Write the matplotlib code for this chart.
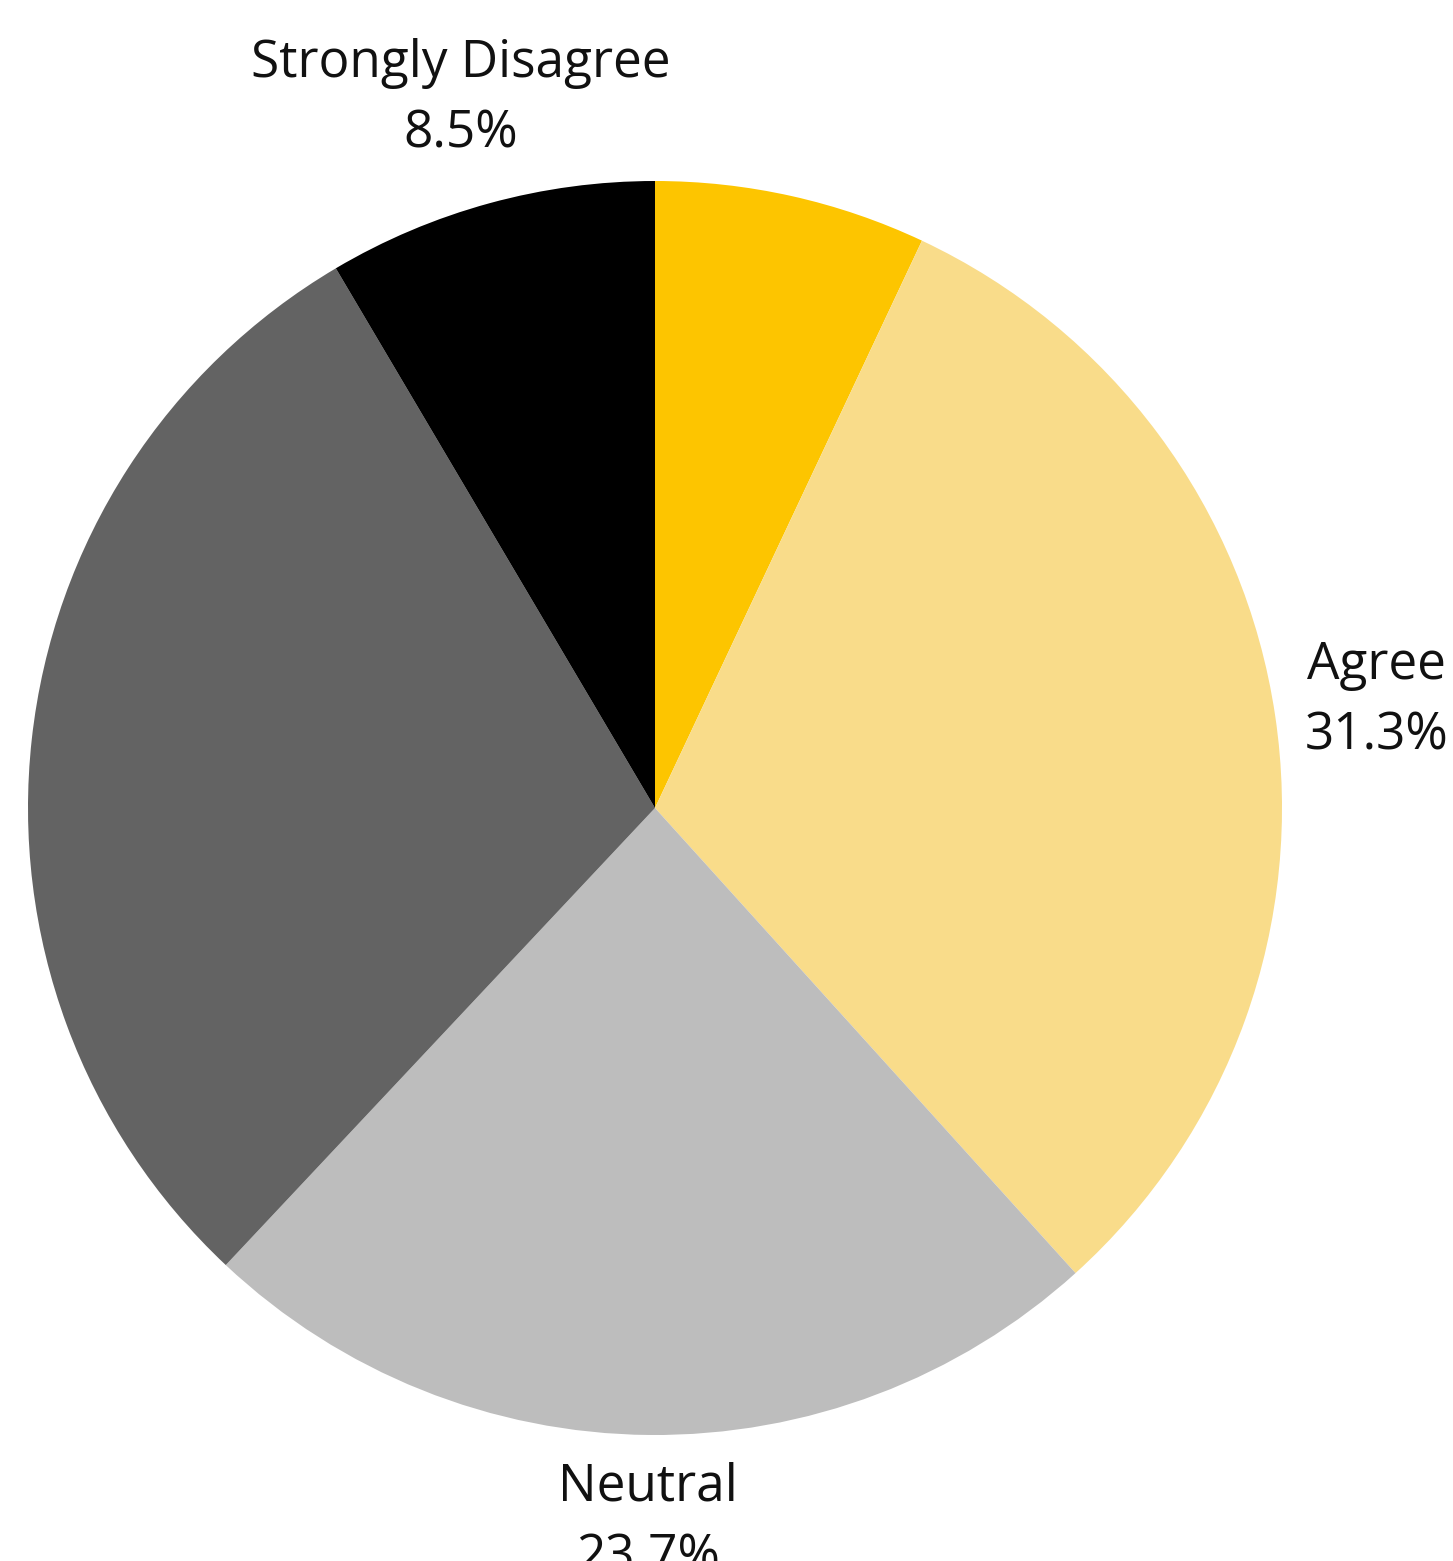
import matplotlib
matplotlib.use("Agg")
import matplotlib.pyplot as plt
import numpy as np

categories = ["Strongly Agree", "Agree", "Neutral", "Disagree", "Strongly Disagree"]
values = [7.0, 31.3, 23.7, 29.5, 8.5]
colors = ["#FDC500", "#F9DC8A", "#BDBDBD", "#636363", "#000000"]
label_dist = [1.6, 1.163, 1.14, 1.28, 1.172]

W, H = 1453, 1561
cx, cy, R = 655, 808, 627

fig = plt.figure(figsize=(W / 100, H / 100), dpi=100)
ax = fig.add_axes([0, 0, 1, 1])
wedges, _ = ax.pie(values, colors=colors, startangle=90, counterclock=False,
                   radius=1.0, center=(0, 0), wedgeprops=dict(linewidth=0))
ax.set_xlim(-cx / R, (W - cx) / R)
ax.set_ylim(-(H - cy) / R, cy / R)
ax.set_aspect("auto")
ax.axis("off")

for w, cat, v, d in zip(wedges, categories, values, label_dist):
    th = np.deg2rad((w.theta1 + w.theta2) / 2)
    x, y = d * np.cos(th), d * np.sin(th)
    ax.text(x, y, f"{cat}\n{v:.1f}%", ha="center", va="center", ma="center",
            fontsize=37, family=["Open Sans", "DejaVu Sans"], color="#111111",
            linespacing=1.5, clip_on=False)

fig.savefig("out.png", dpi=100, facecolor="white")
